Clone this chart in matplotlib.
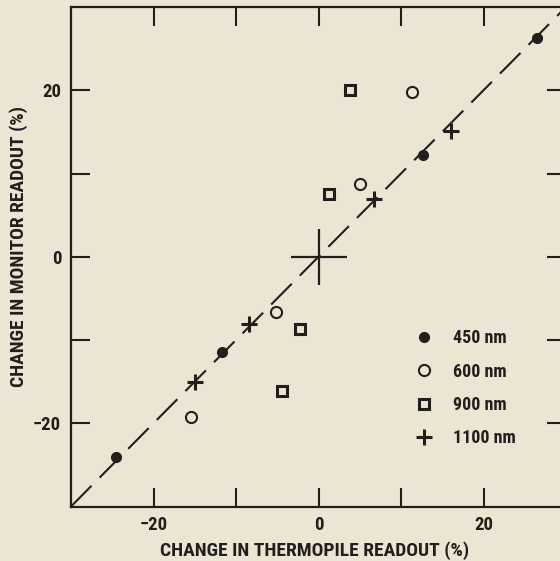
import matplotlib
matplotlib.use("Agg")
import matplotlib.pyplot as plt
from matplotlib import font_manager

# readings per wavelength (change in thermopile %, change in monitor %)
p450_x = [-24.6, -11.7, 12.7, 26.5]
p450_y = [-24.0, -11.5, 12.2, 26.3]
p600_x = [-15.5, -5.1, 5.0, 11.3]
p600_y = [-19.3, -6.6, 8.7, 19.8]
p900_x = [-4.4, -2.2, 1.3, 3.8]
p900_y = [-16.1, -8.7, 7.5, 20.0]
p1100_x = [-15.0, -8.4, 6.7, 16.0]
p1100_y = [-15.1, -8.1, 6.9, 15.1]

ref_line = [-30, 30]          # 1:1 line
origin = [0]
major_ticks = [-20, 0, 20]
minor_ticks = [-10, 10]

bg = "#ebe6d3"
ink = "#221e1b"


def pick_font():
    # narrow bold face if there is one, else plain DejaVu
    for fam in ["Liberation Sans Narrow", "Roboto Condensed", "Open Sans Condensed"]:
        try:
            font_manager.findfont(font_manager.FontProperties(family=fam),
                                  fallback_to_default=False)
            return fam, "normal"
        except Exception:
            pass
    return "DejaVu Sans", "condensed"


fam, stretch = pick_font()
plt.rcParams["font.family"] = [fam, "DejaVu Sans"]
plt.rcParams["font.stretch"] = stretch
plt.rcParams["font.weight"] = "bold"
plt.rcParams["axes.labelweight"] = "bold"

fig = plt.figure(figsize=(5.6, 5.61), dpi=100, facecolor=bg)
ax = fig.add_axes([71 / 560, (561 - 506.5) / 561, 495 / 560, 499.5 / 561])
ax.set_facecolor(bg)

ax.plot(ref_line, ref_line, color=ink, lw=1.5, dashes=(14, 5.5), zorder=1)
ax.plot(origin, origin, marker="+", ms=41, mew=1.6, color=ink, ls="none", zorder=2)

ax.plot(p450_x, p450_y, "o", ms=7, color=ink, ls="none", label="450 nm", zorder=3)
ax.plot(p600_x, p600_y, "o", ms=8, mfc="none", mec=ink, mew=1.5, ls="none",
        label="600 nm", zorder=3)
ax.plot(p900_x, p900_y, "s", ms=7, mfc="none", mec=ink, mew=2.2, ls="none",
        label="900 nm", zorder=3)
ax.plot(p1100_x, p1100_y, "+", ms=11, mew=2.2, color=ink, ls="none",
        label="1100 nm", zorder=3)

ax.set_xlim(-30, 30)
ax.set_ylim(-30, 30)
ax.set_xticks(major_ticks)
ax.set_yticks(major_ticks)
ax.set_xticks(minor_ticks, minor=True)
ax.set_yticks(minor_ticks, minor=True)
ax.tick_params(which="both", direction="in", length=14, width=1.5, color=ink,
               top=True, right=True, labelsize=13.5, labelcolor=ink)
ax.tick_params(axis="x", pad=7)
ax.tick_params(axis="y", pad=7)

for s in ax.spines.values():
    s.set_linewidth(1.6)
    s.set_color(ink)

ax.set_xlabel("CHANGE IN THERMOPILE READOUT (%)", fontsize=14, color=ink)
ax.set_ylabel("CHANGE IN MONITOR READOUT (%)", fontsize=14, color=ink)
ax.xaxis.set_label_coords(0.492, -0.089)
ax.yaxis.set_label_coords(-0.105, 0.52)
ax.xaxis.label.set_va("center")
ax.yaxis.label.set_va("center")

leg = ax.legend(loc="upper left", bbox_to_anchor=(0.662, 0.387), frameon=False,
                numpoints=1, handlelength=1.0, handletextpad=1.1,
                labelspacing=0.85, fontsize=13)
for t in leg.get_texts():
    t.set_color(ink)

fig.savefig("out.png", dpi=100, facecolor=bg)
